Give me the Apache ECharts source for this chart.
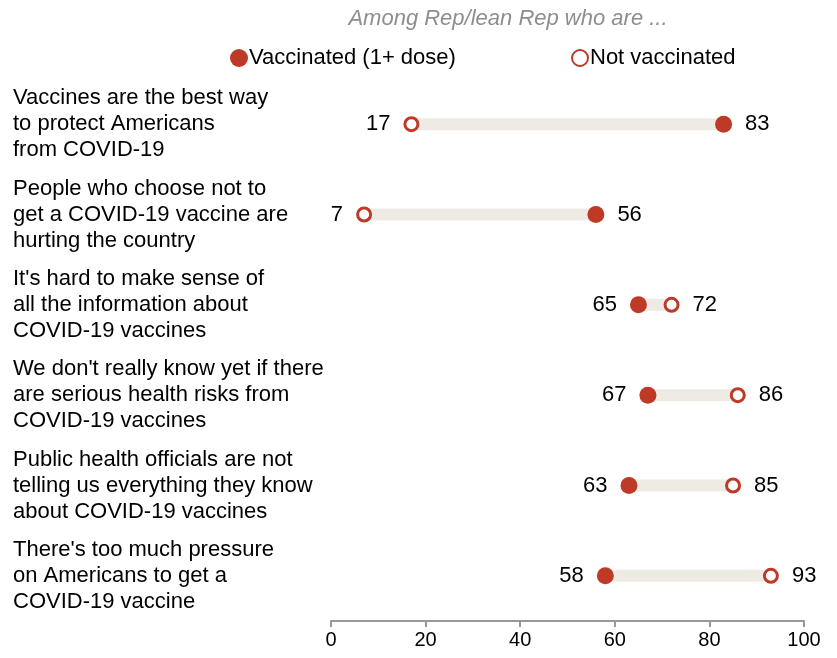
<!DOCTYPE html>
<html>
<head>
<meta charset="utf-8">
<script src="https://cdn.jsdelivr.net/npm/echarts@6/dist/echarts.min.js"></script>
<style>
  html, body { margin: 0; padding: 0; background: #fff; }
  #chart { width: 837px; height: 658px; }
</style>
</head>
<body>
<div id="chart"></div>
<script>
  // statements, top to bottom
  var statements = [
    'Vaccines are the best way\nto protect Americans\nfrom COVID-19',
    'People who choose not to\nget a COVID-19 vaccine are\nhurting the country',
    "It's hard to make sense of\nall the information about\nCOVID-19 vaccines",
    "We don't really know yet if there\nare serious health risks from\nCOVID-19 vaccines",
    'Public health officials are not\ntelling us everything they know\nabout COVID-19 vaccines',
    "There's too much pressure\non Americans to get a\nCOVID-19 vaccine"
  ];
  var vaccinated = [83, 56, 65, 67, 63, 58];
  var notVaccinated = [17, 7, 72, 86, 85, 93];

  var red = '#BE3A26';
  var font = '"Liberation Sans", Arial, sans-serif';

  let lo = vaccinated.map((v, i) => Math.min(v, notVaccinated[i]));
  let span = vaccinated.map((v, i) => Math.abs(v - notVaccinated[i]));

  // label goes on the outside of each dumbbell
  let pointData = (vals, other) => vals.map((v, i) => ({
    value: v,
    label: { position: v >= other[i] ? 'right' : 'left' }
  }));

  let myChart = echarts.init(document.getElementById('chart'));
  myChart.setOption({
    animation: false,
    title: {
      text: 'Among Rep/lean Rep who are ...',
      left: 503,
      textAlign: 'center',
      top: 3,
      textStyle: {
        fontFamily: font,
        fontStyle: 'italic',
        fontWeight: 'normal',
        fontSize: 22,
        color: '#8e8e8e'
      }
    },
    legend: [{
      data: ['Vaccinated (1+ dose)'],
      left: 225,
      top: 42,
      icon: 'circle',
      itemWidth: 18,
      itemHeight: 18,
      textStyle: { fontFamily: font, fontSize: 22, color: '#000', padding: [0, 0, 0, -4] }
    }, {
      data: ['Not vaccinated'],
      left: 566,
      top: 42,
      icon: 'circle',
      itemWidth: 16,
      itemHeight: 16,
      textStyle: { fontFamily: font, fontSize: 22, color: '#000', padding: [0, 0, 0, -3] }
    }],
    grid: {
      top: 79,
      bottom: 37,
      left: 331,
      right: 33
    },
    xAxis: {
      type: 'value',
      min: 0,
      max: 100,
      interval: 20,
      axisLine: { show: true, lineStyle: { color: '#999', width: 2 } },
      axisTick: { show: true, length: 6, lineStyle: { color: '#999', width: 2 } },
      axisLabel: { fontFamily: font, fontSize: 20, color: '#000', margin: 9 },
      splitLine: { show: false }
    },
    yAxis: {
      type: 'category',
      inverse: true,
      data: statements,
      axisLine: { show: false },
      axisTick: { show: false },
      axisLabel: {
        align: 'left',
        margin: 318,
        fontFamily: font,
        fontSize: 22,
        lineHeight: 26,
        color: '#000'
      }
    },
    series: [{
      type: 'bar',
      stack: 'db',
      data: lo,
      barWidth: 12,
      itemStyle: { color: 'transparent' },
      silent: true
    }, {
      type: 'bar',
      stack: 'db',
      data: span,
      barWidth: 12,
      itemStyle: { color: '#EEEBE4' },
      silent: true
    }, {
      name: 'Vaccinated (1+ dose)',
      type: 'scatter',
      data: pointData(vaccinated, notVaccinated),
      symbol: 'circle',
      symbolSize: 17,
      itemStyle: { color: red, opacity: 1 },
      label: {
        show: true,
        distance: 13,
        fontFamily: font,
        fontSize: 22,
        color: '#000'
      },
      z: 5
    }, {
      name: 'Not vaccinated',
      type: 'scatter',
      data: pointData(notVaccinated, vaccinated),
      symbol: 'circle',
      symbolSize: 13,
      itemStyle: { color: '#fff', borderColor: red, borderWidth: 3, opacity: 1 },
      label: {
        show: true,
        distance: 13,
        fontFamily: font,
        fontSize: 22,
        color: '#000'
      },
      z: 5
    }]
  });

  window.addEventListener('resize', () => {
    myChart.resize();
  });
</script>
</body>
</html>
